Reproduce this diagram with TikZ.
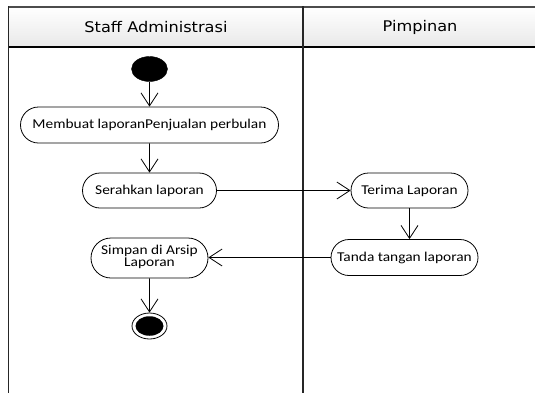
\documentclass[tikz,border=0pt]{standalone}
\usepackage{fontspec}
\usepackage{graphicx}
\usetikzlibrary{arrows.meta,shapes.geometric,shapes.misc}
\newfontfamily\nodefont{Carlito}
\newfontfamily\headfont{DejaVu Sans}
\newcommand{\ntxt}[1]{\scalebox{1.14}[1]{#1}}
\newcommand{\htxt}[1]{\scalebox{1.10}[1]{#1}}
\tikzset{
  act/.style={draw=black, line width=0.8pt, rounded rectangle, rounded rectangle arc length=180,
    inner sep=0pt, align=center, font=\nodefont\fontsize{13.5}{14}\selectfont},
  flow/.style={draw=black, line width=0.8pt, -{Straight Barb[length=13pt,width=17pt,line width=0.8pt]}},
  lane/.style={line width=1.8pt, draw=black!85},
  headtxt/.style={font=\headfont\fontsize{14.7}{16}\selectfont, inner sep=0pt},
}
\begin{document}
\begin{tikzpicture}[x=1pt,y=-1pt]
\useasboundingbox (0,0) rectangle (535,392);
% swimlane header
\shade[top color=white, bottom color=black!9] (8.5,7) rectangle (536,47);
\draw[line width=2pt, draw=black!70] (8.5,7) -- (536,7);
\draw[line width=1.2pt] (8.5,47) -- (536,47);
\draw[lane] (8.5,6) -- (8.5,394);
\draw[lane] (303,6) -- (303,394);
\node[headtxt] (h1) at (156,27.5) {\htxt{Staff Administrasi}};
\node[headtxt] (h2) at (420,27.5) {\htxt{Pimpinan}};
% nodes
\node[ellipse, fill=black, draw=black, minimum width=36pt, minimum height=25pt, inner sep=0pt] (start) at (149.5,69) {};
\node[act, minimum width=258pt, minimum height=36pt] (membuat) at (149.5,125) {\ntxt{Membuat laporanPenjualan perbulan}};
\node[act, minimum width=134pt, minimum height=35pt] (serahkan) at (149.5,190.5) {\ntxt{Serahkan laporan}};
\node[act, minimum width=117pt, minimum height=35pt] (terima) at (409.5,190.5) {\ntxt{Terima Laporan}};
\node[act, minimum width=147pt, minimum height=36pt] (tanda) at (404.5,257.5) {\ntxt{Tanda tangan laporan}};
\node[act, minimum width=117pt, minimum height=40pt] (simpan) at (149.5,258) {\ntxt{\begin{tabular}{@{}c@{}}Simpan di Arsip\\[-2pt]Laporan\end{tabular}}};
\node[ellipse, draw=black, line width=0.8pt, minimum width=35pt, minimum height=26pt, inner sep=0pt] (end) at (149.5,326) {};
\node[ellipse, fill=black, minimum width=28pt, minimum height=19.5pt, inner sep=0pt] (endin) at (149.5,326) {};
% flows
\draw[flow] (start) -- (membuat);
\draw[flow] (membuat) -- (serahkan);
\draw[flow] (serahkan) -- (terima);
\draw[flow] (terima.south) -- (terima.south |- tanda.north);
\draw[flow] (tanda.west) -- (tanda.west -| simpan.east);
\draw[flow] (simpan) -- (end);
\end{tikzpicture}
\end{document}
